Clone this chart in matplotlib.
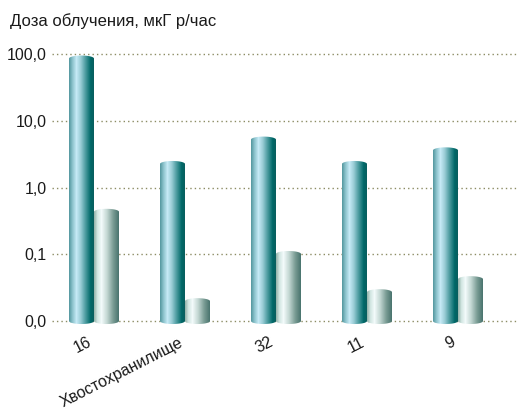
import numpy as np
import matplotlib
matplotlib.use("Agg")
import matplotlib.pyplot as plt
from matplotlib.colors import LinearSegmentedColormap
from matplotlib.path import Path
from matplotlib.patches import PathPatch
from matplotlib.transforms import IdentityTransform

plt.rcParams['font.family'] = ['Liberation Sans', 'DejaVu Sans']

categories = ["16", "Хвостохранилище", "32", "11", "9", "11"]
series_a = [95, 2.5, 5.8, 2.5, 4.0]
series_b = [0.48, 0.022, 0.112, 0.030, 0.047]
ytick_vals = [0.01, 0.1, 1, 10, 100]
ytick_labels = ["0,0", "0,1", "1,0", "10,0", "100,0"]
title = "Доза облучения, мкГ р/час"

W, H = 519, 409
fig = plt.figure(figsize=(W / 100, H / 100), dpi=100)
ax_left = 52 / W
ax_bottom = (H - 327.7) / H
ax_top = (H - 50.7) / H
ax = fig.add_axes([ax_left, ax_bottom, 600 / W - ax_left, ax_top - ax_bottom])
ax.set_yscale('log')
ax.set_ylim(10 ** -2.1, 10 ** 2.05)
ax.set_xlim((52 - 94) / 91, (600 - 94) / 91)
for s in ax.spines.values():
    s.set_visible(False)
ax.set_yticks(ytick_vals)
ax.set_yticklabels(ytick_labels, fontsize=11.5, color='#1a1a1a')
ax.yaxis.set_minor_locator(matplotlib.ticker.NullLocator())
ax.tick_params(axis='y', length=0, pad=4)
for v in ytick_vals:
    ax.axhline(v, color='#8c8c64', lw=1.0, ls=(0, (1, 2.2)), zorder=0, clip_on=False)

xpos = np.arange(len(categories))
ax.set_xticks(xpos)
ax.set_xticklabels(categories, rotation=27, ha='right', va='top', fontsize=11.5, color='#1a1a1a')
ax.tick_params(axis='x', length=0, pad=5)

cmap_a = LinearSegmentedColormap.from_list('a', [
    (0.0, '#5a9ca4'), (0.12, '#8cc3cc'), (0.28, '#c6eaf6'), (0.45, '#9acdd6'),
    (0.65, '#4a9a9e'), (0.85, '#006868'), (1.0, '#0c5c5c')])
cmap_b = LinearSegmentedColormap.from_list('b', [
    (0.0, '#9ab8b0'), (0.12, '#d2e6e2'), (0.28, '#f3fbfb'), (0.5, '#c4d8d4'),
    (0.75, '#7a9c94'), (1.0, '#44706a')])
grad = np.linspace(0, 1, 256)[None, :]

bw = 25 / 91
bars_a = ax.bar(xpos[:len(series_a)] - bw / 2, np.array(series_a) - 0.01, bottom=0.01,
                width=bw, alpha=0)
bars_b = ax.bar(xpos[:len(series_b)] + bw / 2, np.array(series_b) - 0.01, bottom=0.01,
                width=bw, alpha=0)

def cyl(rect, cmap):
    x0 = rect.get_x(); x1 = x0 + rect.get_width()
    yb = rect.get_y(); yt = yb + rect.get_height()
    (px0, pyb), (px1, pyt) = ax.transData.transform([(x0, yb), (x1, yt)])
    e = 3.0
    rx = (px1 - px0) / 2
    cx = (px0 + px1) / 2
    th_top = np.linspace(0, np.pi, 40)
    top = np.column_stack([cx + rx * np.cos(th_top), (pyt - e) + e * np.sin(th_top)])
    th_bot = np.linspace(np.pi, 2 * np.pi, 40)
    bot = np.column_stack([cx + rx * np.cos(th_bot), pyb + e * np.sin(th_bot)])
    verts = np.vstack([bot, top, bot[:1]])
    codes = [Path.MOVETO] + [Path.LINETO] * (len(verts) - 2) + [Path.CLOSEPOLY]
    patch = PathPatch(Path(verts, codes), transform=IdentityTransform(),
                      facecolor='none', edgecolor='none')
    fig.add_artist(patch)
    im = ax.imshow(grad, cmap=cmap, aspect='auto', extent=(x0, x1, 10 ** -2.1, yt * 1.05),
                   interpolation='bilinear', zorder=2)
    im.set_clip_path(patch)

fig.canvas.draw()
for r in bars_a:
    cyl(r, cmap_a)
for r in bars_b:
    cyl(r, cmap_b)
ax.set_xlim((52 - 94) / 91, (600 - 94) / 91)
ax.set_ylim(10 ** -2.1, 10 ** 2.05)

fig.text(10 / W, 1 - 26 / H, title, fontsize=12, color='#1a1a1a', ha='left', va='baseline')

fig.savefig('out.png', dpi=100)
